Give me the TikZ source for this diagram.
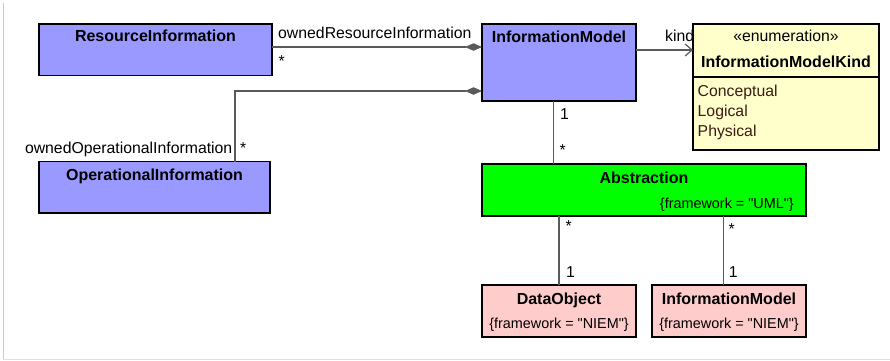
\documentclass[tikz,border=0pt]{standalone}
\usepackage{fontspec}
\setmainfont{Liberation Sans}
\setmonofont{Liberation Sans}
\newcommand{\sdq}{{\ttfamily\symbol{34}}}
\usetikzlibrary{arrows.meta}
\definecolor{blueF}{HTML}{9999FF}
\definecolor{yellowF}{HTML}{FFFFCC}
\definecolor{greenF}{HTML}{00FF00}
\definecolor{pinkF}{HTML}{FFCCCC}
\definecolor{connC}{HTML}{5A5A5A}
\definecolor{litC}{HTML}{3A1C12}
\definecolor{frameL}{HTML}{F2B6BE}
\definecolor{frameB}{HTML}{F5D5DC}
\begin{document}
\begin{tikzpicture}[x=1pt,y=-1pt,
  box/.style={draw=black, line width=1.2pt, inner sep=0pt, outer sep=0pt},
  title/.style={font=\fontsize{16}{19}\selectfont\bfseries, inner sep=0pt, anchor=base},
  txt/.style={font=\fontsize{15.8}{19}\selectfont, inner sep=0pt},
  fw/.style={font=\fontsize{14.4}{17}\selectfont, inner sep=0pt},
  conn/.style={draw=connC, line width=1.2pt},
  comp/.style={-{Diamond[length=17pt,width=7.5pt,fill=connC]}},
  nav/.style={-{Straight Barb[length=7pt,width=12pt]}}]
\useasboundingbox (0,0) rectangle (890,360);
% faint frame
\draw[frameL, line width=0.8pt] (3,3) -- (3,359);
\draw[frameB, line width=0.8pt] (3,359) -- (890,359);
% boxes
\node[box, fill=blueF, minimum width=233pt, minimum height=51.5pt] (ri) at (155.5,49.75) {};
\node[box, fill=blueF, minimum width=231pt, minimum height=51.5pt] (oi) at (154.5,187.25) {};
\node[box, fill=blueF, minimum width=154pt, minimum height=77pt] (im) at (559,62.5) {};
\node[box, fill=yellowF, minimum width=186pt, minimum height=126pt] (en) at (786,87) {};
\node[box, fill=greenF, minimum width=324pt, minimum height=52pt] (ab) at (644,190) {};
\node[box, fill=pinkF, minimum width=154pt, minimum height=52pt] (do) at (559,311) {};
\node[box, fill=pinkF, minimum width=154pt, minimum height=52pt] (im2) at (729,311) {};
% helper coordinates
\coordinate (y47) at (0,47);
\coordinate (y50) at (0,50);
\coordinate (y77) at (0,77);
\coordinate (y91) at (0,91);
\coordinate (x235) at (235,0);
\coordinate (x553) at (553.3,0);
\coordinate (x723) at (723.3,0);
% enum divider
\draw[black, line width=1.2pt] (en.west |- y77) -- (en.east |- y77);
% texts in boxes
\node[title] (tri) at (155.5,41.7) {ResourceInformation};
\node[title] (toi) at (154.5,180) {OperationalInformation};
\node[title] (tim) at (559,42) {InformationModel};
\node[txt, anchor=base] (tst) at (786,41.5) {«enumeration»};
\node[title] (ten) at (786,67) {InformationModelKind};
\node[txt, anchor=base west, text=litC] (e1) at (697.5,96) {Conceptual};
\node[txt, anchor=base west, text=litC] (e2) at (697.5,116) {Logical};
\node[txt, anchor=base west, text=litC] (e3) at (697.5,136) {Physical};
\node[title] (tab) at (644,183) {Abstraction};
\node[fw, anchor=base east] (fab) at (794,208) {\{framework = \sdq UML\sdq\}};
\node[title] (tdo) at (559,304) {DataObject};
\node[fw, anchor=base] (fdo) at (559,328) {\{framework = \sdq NIEM\sdq\}};
\node[title] (tim2) at (729,304) {InformationModel};
\node[fw, anchor=base] (fim2) at (729,328) {\{framework = \sdq NIEM\sdq\}};
% connectors
\draw[conn, comp] (ri.east |- y47) -- (im.west |- y47);
\draw[conn, comp] (oi.north -| x235) |- (im.west |- y91);
\draw[conn, nav] (im.east |- y50) -- (en.west |- y50);
\draw[conn] (im.south -| x553) -- (ab.north -| x553);
\draw[conn] (ab.south -| do.north) -- (do.north);
\draw[conn] (ab.south -| x723) -- (im2.north -| x723);
% connector labels
\node[txt, anchor=base west] (l1) at (278,38) {ownedResourceInformation};
\node[txt, anchor=base west] (m1) at (278.5,66.7) {*};
\node[txt, anchor=base east] (l2) at (232.5,153) {ownedOperationalInformation};
\node[txt, anchor=base west] (m2) at (240,153.4) {*};
\node[txt, anchor=base west] (l3) at (665,41) {kind};
\node[txt, anchor=base west] (m3) at (560,119) {1};
\node[txt, anchor=base west] (m4) at (559.5,155) {*};
\node[txt, anchor=base west] (m5) at (565.3,231.4) {*};
\node[txt, anchor=base west] (m6) at (566,277) {1};
\node[txt, anchor=base west] (m7) at (728.3,234.7) {*};
\node[txt, anchor=base west] (m8) at (728.7,277) {1};
\end{tikzpicture}
\end{document}
